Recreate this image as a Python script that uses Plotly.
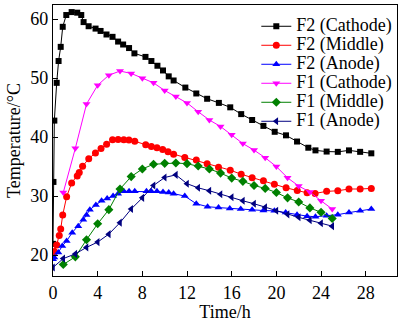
import plotly.graph_objects as go

# Time (h) and temperature (°C) readings for each measuring point
f2_cathode_t = [0, 0.04, 0.12, 0.33, 0.5, 0.69, 0.87, 1.19, 1.67, 2.17, 2.53, 2.74, 3.19, 3.81, 4.26,
                4.79, 5.33, 5.83, 6.28, 6.81, 7.29, 8.28, 8.81, 9.35, 9.85, 10.36, 10.8, 11.85, 12.83,
                13.8, 14.85, 15.87, 16.85, 17.83, 18.84, 19.85, 20.86, 21.85, 22.86, 23.5, 24.5, 25.5,
                26.5, 27.5, 28.5]
f2_cathode = [21.9, 32.4, 42.8, 49.2, 52.9, 55.3, 58.7, 60.7, 61.2, 61.1, 60.7, 59.5, 58.8, 58.4, 58.0,
              57.4, 57.0, 56.2, 55.7, 55.1, 54.2, 53.6, 52.9, 52.1, 51.3, 50.3, 49.6, 48.4, 47.4,
              46.5, 45.8, 45.05, 43.9, 42.9, 41.9, 40.9, 40.3, 39.25, 38.2, 37.75, 37.55, 37.5,
              37.75, 37.5, 37.25]

f2_middle_t = [0, 0.12, 0.33, 0.56, 0.69, 0.87, 1.22, 1.67, 2.17, 2.35, 2.65, 3.2, 3.8, 4.3, 4.8,
               5.33, 5.83, 6.34, 6.8, 7.32, 8.3, 8.81, 9.31, 9.82, 10.3, 10.8, 11.8, 12.83, 13.8,
               14.82, 15.87, 16.85, 17.83, 18.84, 19.82, 20.87, 21.87, 22.75, 23.47, 24.5, 25.5,
               26.5, 27.5, 28.5]
f2_middle = [20.2, 20.6, 21.7, 23.3, 24.4, 26.8, 29.9, 32.2, 33.4, 34.0, 35.05, 36.35, 37.3, 38.05, 38.8,
             39.55, 39.6, 39.55, 39.5, 39.3, 38.7, 38.4, 38.2, 37.9, 37.5, 37.1, 36.55, 36.1, 35.5,
             34.9, 34.4, 33.7, 33.1, 32.6, 32.0, 31.4, 30.95, 30.55, 30.45, 30.8, 30.9,
             31.2, 31.2, 31.3]

f2_anode_t = [0, 0.12, 0.48, 0.83, 1.22, 1.72, 2.26, 2.71, 3.0, 3.3, 3.84, 4.35, 4.85, 5.38, 5.83,
              6.34, 6.81, 7.32, 8.37, 8.8, 9.31, 9.85, 10.36, 10.8, 11.8, 12.83, 13.84, 14.82, 15.83,
              16.81, 17.83, 18.84, 19.82, 20.83, 21.85, 22.75, 23.5, 24.5, 25.5, 26.5, 27.5, 28.5]
f2_anode = [19.3, 19.6, 20.45, 21.55, 22.4, 23.8, 24.9, 26.0, 26.8, 27.7, 28.5, 29.2, 29.6, 30.0, 30.4,
            30.8, 30.8, 30.8, 30.8, 30.8, 30.8, 30.7, 30.6, 30.4, 30.0, 28.7, 28.2, 28.05, 27.9,
            27.8, 27.7, 27.55, 27.5, 27.2, 26.85, 26.6, 26.5, 26.65, 26.85, 27.2, 27.5, 27.8]

f1_t = [0.92, 2, 3, 4, 5, 6, 7, 8, 9, 10, 11, 12, 13, 14, 15, 16, 17, 18, 19, 20, 21, 22, 23, 24, 25]
f1_cathode = [30.6, 38.1, 45.6, 48.8, 50.5, 51.2, 50.8, 50.0, 49.2, 47.9, 46.9, 45.8, 44.3, 42.9, 41.8,
              40.4, 38.9, 37.8, 36.5, 35.0, 33.1, 31.7, 30.7, 29.2, 27.8]
f1_middle = [18.4, 19.7, 22.6, 25.3, 27.7, 31.2, 33.3, 34.6, 35.4, 35.55, 35.6, 35.5, 35.1, 34.6, 33.9,
             33.05, 32.5, 31.8, 31.3, 30.6, 29.7, 29.0, 28.0, 27.25, 26.2]
f1_anode_t = [0] + f1_t
f1_anode = [17.9, 19.4, 20.2, 21.3, 22.2, 23.55, 25.5, 27.8, 29.7, 31.8, 33.15, 33.6, 32.1, 31.4, 30.9,
            30.3, 29.8, 29.2, 28.7, 28.1, 27.5, 26.9, 26.4, 25.9, 25.4, 24.9]

x_ticks = [0, 4, 8, 12, 16, 20, 24, 28]
y_ticks = [20, 30, 40, 50, 60]

FONT = "Liberation Serif"

series = [
    ("F2 (Cathode)", f2_cathode_t, f2_cathode, "#000000", "square", 6),
    ("F2 (Middle)", f2_middle_t, f2_middle, "#ff0000", "circle", 7),
    ("F2 (Anode)", f2_anode_t, f2_anode, "#0000ff", "triangle-up", 7),
    ("F1 (Cathode)", f1_t, f1_cathode, "#ff00ff", "triangle-down", 7),
    ("F1 (Middle)", f1_t, f1_middle, "#008000", "diamond", 7),
    ("F1 (Anode)", f1_anode_t, f1_anode, "#000080", "triangle-left", 7),
]

fig = go.Figure()
for name, t, v, color, symbol, size in series:
    fig.add_trace(go.Scatter(
        x=t, y=v, mode="lines+markers",
        name=f'<span style="font-size:18px">{name}</span>',
        line=dict(color=color, width=1),
        marker=dict(symbol=symbol, size=size, color=color, line=dict(width=0)),
    ))

axis_common = dict(
    showline=True, linecolor="black", linewidth=1.3, mirror=True,
    ticks="inside", ticklen=5, tickwidth=1.3, tickcolor="black",
    showgrid=False, zeroline=False,
    tickfont=dict(family=FONT, size=18, color="black"),
)

fig.update_layout(
    width=400, height=322,
    margin=dict(l=53, r=2, t=5, b=40),
    paper_bgcolor="white", plot_bgcolor="white",
    font=dict(family=FONT, size=18, color="black"),
    showlegend=True,
    legend=dict(
        x=0.591, y=0.975, xanchor="left", yanchor="top",
        bgcolor="rgba(0,0,0,0)", borderwidth=0,
        font=dict(family=FONT, size=11.8, color="black"),
        itemwidth=30,
    ),
    xaxis=dict(axis_common, range=[0, 30.8], tickvals=x_ticks,
               title=dict(text="Time/h", font=dict(family=FONT, size=18), standoff=5)),
    yaxis=dict(axis_common, range=[16.45, 62.4], tickvals=y_ticks,
               title=dict(text="Temperature/°C", font=dict(family=FONT, size=18), standoff=4)),
)

fig.write_html("out.html")
